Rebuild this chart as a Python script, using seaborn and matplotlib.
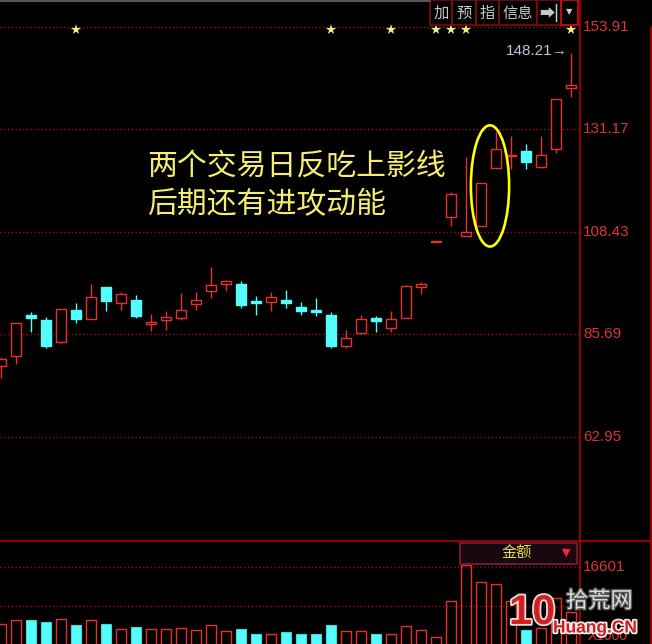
import numpy as np
import pandas as pd
import matplotlib
matplotlib.use("Agg")
import matplotlib.pyplot as plt
import matplotlib.patheffects as pe
import seaborn as sns
from matplotlib.patches import Ellipse, Rectangle
from matplotlib.lines import Line2D

# 日K线数据
opens = [78.71, 80.93, 89.96, 88.85, 83.97, 91.07, 89.01, 96.11, 92.56, 93.29,
         88.03, 88.92, 89.23, 92.47, 95.29, 96.91, 96.84, 93.07, 92.78, 93.29,
         91.80, 91.14, 89.96, 83.08, 85.90, 89.36, 87.01, 89.23, 96.24, 106.23,
         111.78, 107.56, 109.78, 122.52, 125.18, 126.36, 122.81, 126.74, 140.27]
highs = [80.64, 88.25, 90.69, 89.45, 91.29, 92.56, 96.84, 96.11, 95.00, 94.40,
         90.18, 90.85, 94.78, 95.00, 100.55, 97.73, 97.51, 94.18, 95.00, 95.51,
         92.78, 93.67, 90.69, 86.63, 89.96, 89.74, 90.85, 96.62, 97.35, 106.23,
         117.19, 124.96, 119.32, 130.64, 129.69, 127.91, 129.69, 137.90, 148.21]
lows = [75.98, 79.02, 86.12, 82.57, 83.68, 88.12, 89.01, 90.85, 91.07, 89.36,
        86.41, 86.63, 88.85, 91.07, 93.80, 95.29, 91.45, 89.96, 90.85, 91.45,
        89.96, 89.74, 82.57, 82.57, 85.68, 86.12, 86.12, 89.23, 94.56, 106.23,
        109.78, 107.56, 109.78, 122.52, 122.30, 122.30, 122.52, 125.85, 138.41]
closes = [80.20, 88.25, 89.23, 83.08, 91.29, 89.01, 94.02, 93.07, 94.62, 89.74,
          88.48, 89.52, 91.07, 93.29, 96.62, 97.51, 92.18, 92.56, 93.89, 92.56,
          90.85, 90.56, 83.08, 84.92, 89.07, 88.63, 89.07, 96.40, 96.84, 106.23,
          116.82, 108.45, 119.32, 126.80, 125.40, 123.92, 125.40, 137.90, 141.01]
# 成交金额 (单位: 千)
volumes = [4342, 5193, 5257, 4767, 5470, 4193, 5193, 4469, 3341, 3703,
           3341, 3341, 3618, 3129, 4129, 2852, 3405, 2341, 2277, 2639,
           2341, 2341, 4193, 2916, 2916, 2341, 2277, 3916, 3129, 1703,
           9237, 16963, 13408, 12919, 9301, 3129, 3554, 10003, 6960]

price_ticks = [153.91, 131.17, 108.43, 85.69, 62.95]
vol_ticks = [16601, 8300.5]
star_days = [5, 22, 26, 29, 30, 31, 38]
last_high_label = "148.21"
note_lines = ["两个交易日反吃上影线", "后期还有进攻动能"]

RED = "#e8302c"
CYAN = "#55fcfc"
GRID = "#9a1010"
AXRED = "#b00000"
LBL = "#dd3535"

sns.set_style("dark", {"axes.facecolor": "black", "figure.facecolor": "black"})
plt.rcParams["font.family"] = ["Liberation Sans", "Noto Sans CJK SC", "DejaVu Sans"]

W, H = 652, 644
fig = plt.figure(figsize=(W / 100, H / 100), dpi=100)

def fx(x):
    return x / W

def fy(y):
    return 1 - y / H

# 主图 (价格)
ax = fig.add_axes([0, fy(540.7), fx(580), (540.7) / H])
ax.set_facecolor("black")
n = len(opens)
idx = np.arange(n)
o = np.array(opens); c = np.array(closes)
up = c >= o
cols = np.where(up, RED, CYAN)

ax.vlines(idx, lows, highs, colors=cols, lw=1.0, zorder=2)
body_lo = np.minimum(o, c)
body_h = np.maximum(np.abs(c - o), 0.05)
ax.bar(idx, body_h, bottom=body_lo, width=0.7,
       facecolor=np.where(up, "black", CYAN), edgecolor=cols, lw=1.0, zorder=3)

for p in price_ticks:
    ax.axhline(p, color=GRID, lw=1.0, ls=(0, (1, 1.7)), zorder=1)

sns.scatterplot(x=star_days, y=[153.3] * len(star_days), marker="*", s=60,
                color="#f2ef78", edgecolor="none", ax=ax, zorder=4)

ax.add_patch(Ellipse((32.6, 118.6), 2.55, 26.9, fill=False,
                     edgecolor="#ffff00", lw=1.9, zorder=5))

ax.set_xlim(-1 / 15, 579 / 15)
ax.set_ylim(39.87, 159.87)
ax.set_xticks([]); ax.set_yticks([])
for s in ax.spines.values():
    s.set_visible(False)

# 副图 (金额)
axv = fig.add_axes([0, 0, fx(580), (H - 540.7) / H])
axv.set_facecolor("black")
vol_df = pd.DataFrame({"day": idx, "amount": volumes, "up": up})
sns.barplot(data=vol_df[vol_df["up"]], x="day", y="amount", native_scale=True,
            fill=False, color=RED, width=0.73, linewidth=1.0, errorbar=None, ax=axv)
sns.barplot(data=vol_df[~vol_df["up"]], x="day", y="amount", native_scale=True,
            color=CYAN, width=0.73, linewidth=0.8, edgecolor="#40d8d8",
            saturation=1, errorbar=None, ax=axv)
for v in vol_ticks:
    axv.axhline(v, color=GRID, lw=1.0, ls=(0, (1, 1.7)), zorder=0)
axv.set_xlim(-1 / 15, 579 / 15)
axv.set_ylim(149, 22134)
axv.set_xticks([]); axv.set_yticks([])
axv.set_xlabel(""); axv.set_ylabel("")
for s in axv.spines.values():
    s.set_visible(False)

# 框线
def fline(x0, y0, x1, y1, color, lw):
    fig.add_artist(Line2D([fx(x0), fx(x1)], [fy(y0), fy(y1)], color=color, lw=lw))

fline(0, 1, 430, 1, "#555555", 1.5)
fline(0, 540.7, 652, 540.7, AXRED, 1.2)
fline(580, 0, 580, 644, AXRED, 1.2)
fline(650.5, 27, 650.5, 644, AXRED, 1.2)

# 右侧刻度
for p in price_ticks:
    y = 129.3 - (p - 131.17) / 0.22193
    fig.text(fx(583), fy(y), f"{p:.2f}", color=LBL, fontsize=11, va="center", ha="left")
fig.text(fx(583), fy(566.7), f"{vol_ticks[0]:.0f}", color=LBL, fontsize=11, va="center", ha="left")
fig.text(fx(588), fy(636), "X1000", color=LBL, fontsize=10, va="center", ha="left", zorder=1)

fig.text(fx(506), fy(51), last_high_label + "→", color="#b8c6dc", fontsize=11,
         va="center", ha="left")

# 顶部按钮
buttons = [("加", 430, 452), ("预", 452, 476), ("指", 476, 499),
           ("信息", 499, 537), ("➡|", 537, 561)]
for label, x0, x1 in buttons:
    fig.add_artist(Rectangle((fx(x0), fy(25)), fx(x1 - x0), 25 / H, fill=False,
                             edgecolor="#7a0c0c", lw=1.2, transform=fig.transFigure))
    fig.text(fx((x0 + x1) / 2), fy(13), label, color="#c8c8c8", fontsize=11,
             ha="center", va="center", weight="bold" if label == "➡|" else "normal",
             family=["Noto Sans CJK SC", "DejaVu Sans"])
fig.add_artist(Rectangle((fx(561), fy(25)), fx(17), 25 / H, fill=False,
                         edgecolor="#cc1010", lw=1.2, transform=fig.transFigure))
fig.text(fx(569.5), fy(12), "▼", color="#d0d0d0", fontsize=6, ha="center", va="center",
         family=["DejaVu Sans"])

# 金额按钮
fig.add_artist(Rectangle((fx(460), fy(563.5)), fx(117), 21 / H, facecolor="#1a0810",
                         edgecolor="#6a1838", lw=1.5, transform=fig.transFigure))
fig.text(fx(517), fy(553), "金额", color="#e2e04a", fontsize=11, ha="center", va="center",
         family=["Noto Sans CJK SC", "DejaVu Sans"])
fig.text(fx(566), fy(553), "▼", color="#ff2040", fontsize=8, ha="center", va="center",
         family=["DejaVu Sans"])

# 注释文字
for k, line in enumerate(note_lines):
    fig.text(fx(147), fy(166 + 38 * k), line, color="#f5ee6e", fontsize=21.5,
             ha="left", va="center", family=["Noto Sans CJK SC", "DejaVu Sans"])

# 水印
stroke = [pe.withStroke(linewidth=2.5, foreground="#f0f0f0")]
fig.text(fx(509), fy(613), "10", color="#d41a1a", fontsize=30, weight="bold",
         ha="left", va="center", path_effects=stroke, alpha=0.95, zorder=5)
fig.text(fx(566), fy(601), "拾荒网", color="#dcdcdc", fontsize=16,
         ha="left", va="center", family=["Noto Sans CJK SC", "DejaVu Sans"],
         path_effects=[pe.withStroke(linewidth=2, foreground="#555555")], zorder=5)
fig.text(fx(553), fy(628), "Huang.CN", color="#d41a1a", fontsize=12.5, weight="bold",
         ha="left", va="center", path_effects=stroke, zorder=5)

fig.savefig("out.png", dpi=100, facecolor="black")
plt.close(fig)
